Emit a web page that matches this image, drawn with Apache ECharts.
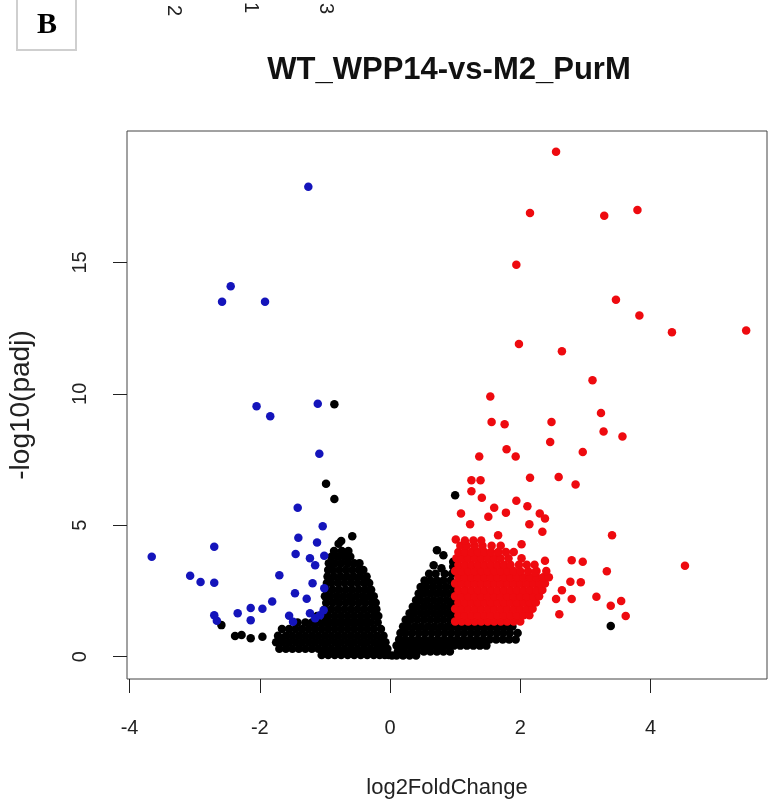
<!DOCTYPE html>
<html>
<head>
<meta charset="utf-8">
<script src="https://cdn.jsdelivr.net/npm/echarts@6/dist/echarts.min.js"></script>
<style>
html,body{margin:0;padding:0;background:#fff;}
#chart{width:769px;height:803px;}
</style>
</head>
<body>
<div id="chart"></div>
<script>
// ---- texts ----
const chartTitle = 'WT_WPP14-vs-M2_PurM';
const xName = 'log2FoldChange';
const yName = '-log10(padj)';
const panelLetter = 'B';
const topCutLabels = ['2', '1', '3'];
const xTicks = [-4, -2, 0, 2, 4];
const yTicks = [0, 5, 10, 15];

// ---- significant down (blue) ----
const downPts = [
  [-1.255,17.88],[-2.447,14.09],[-2.58,13.5],[-1.92,13.5],[-2.05,9.53],[-1.84,9.15],
  [-1.11,9.62],[-1.086,7.72],[-1.418,5.67],[-1.034,4.96],[-1.408,4.52],[-1.121,4.34],
  [-3.66,3.80],[-2.70,4.18],[-1.45,3.91],[-1.23,3.74],[-1.15,3.48],[-1.01,3.84],
  [-3.07,3.08],[-2.91,2.84],[-2.70,2.81],[-1.70,3.10],[-1.19,2.79],[-1.01,2.60],
  [-1.46,2.41],[-1.28,2.20],[-1.81,2.10],[-1.96,1.82],[-2.14,1.85],[-2.34,1.65],
  [-2.14,1.39],[-2.70,1.58],[-2.66,1.37],[-1.55,1.56],[-1.49,1.33],[-1.23,1.65],
  [-1.15,1.46],[-1.075,1.58],[-1.02,1.77]
];

// ---- significant up (red), isolated ----
const upPts = [
  [2.55,19.21],[2.15,16.88],[3.29,16.78],[3.80,16.99],[1.94,14.91],[3.47,13.58],
  [3.83,12.98],[4.33,12.34],[5.47,12.41],[1.98,11.90],[2.64,11.62],[3.11,10.52],
  [1.54,9.90],[3.24,9.27],[1.56,8.93],[1.76,8.84],[2.48,8.93],[3.28,8.57],
  [3.57,8.38],[2.46,8.17],[1.79,7.89],[1.93,7.62],[1.37,7.62],[2.96,7.79],
  [2.15,6.81],[2.59,6.84],[2.85,6.55],[1.25,6.71],[1.39,6.71],[1.25,6.29],
  [1.41,6.05],[1.94,5.93],[2.11,5.72],[2.30,5.45],[2.38,5.26],[1.78,5.48],
  [1.60,5.67],[1.51,5.32],[1.09,5.45],[1.23,5.04],[2.14,5.04],[2.34,4.75],
  [1.66,4.62],[1.01,4.46],[2.02,4.28],[3.41,4.62],[2.38,3.65],[2.79,3.67],
  [2.96,3.61],[3.33,3.25],[4.53,3.46],[2.23,3.21],[2.77,2.85],[2.93,2.83],
  [2.64,2.53],[2.55,2.19],[2.79,2.19],[3.17,2.28],[3.39,1.94],[3.55,2.12],
  [3.62,1.55],[2.60,1.61]
];

// ---- significant up (red), dense cloud: [y, x values] ----
const upRows = [
  [1.34,[1.00,1.10,1.20,1.30,1.40,1.50,1.60,1.70,1.80,1.90,2.00]],
  [1.58,[1.05,1.15,1.25,1.35,1.45,1.55,1.65,1.75,1.85,1.95,2.05,2.14]],
  [1.82,[1.00,1.10,1.20,1.30,1.40,1.50,1.60,1.70,1.80,1.90,2.00,2.10,2.19]],
  [2.06,[1.05,1.15,1.25,1.35,1.45,1.55,1.65,1.75,1.85,1.95,2.05,2.15,2.24]],
  [2.30,[1.00,1.10,1.20,1.30,1.40,1.50,1.60,1.70,1.80,1.90,2.00,2.10,2.20,2.29]],
  [2.54,[1.05,1.15,1.25,1.35,1.45,1.55,1.65,1.75,1.85,1.95,2.05,2.15,2.25,2.34]],
  [2.78,[1.00,1.10,1.20,1.30,1.40,1.50,1.60,1.70,1.80,1.90,2.00,2.10,2.20,2.30,2.38]],
  [3.02,[1.05,1.15,1.25,1.35,1.45,1.55,1.65,1.75,1.85,1.95,2.05,2.15,2.25,2.35,2.44]],
  [3.26,[1.00,1.10,1.20,1.30,1.40,1.50,1.60,1.70,1.80,1.90,2.00,2.12,2.25,2.40]],
  [3.50,[1.05,1.15,1.25,1.35,1.45,1.55,1.65,1.75,1.85,1.98,2.10,2.22]],
  [3.74,[1.02,1.10,1.20,1.30,1.40,1.50,1.60,1.70,1.82,2.02]],
  [3.98,[1.05,1.15,1.25,1.35,1.45,1.55,1.66,1.78,1.90]],
  [4.22,[1.08,1.18,1.30,1.42,1.56,1.70]],
  [4.42,[1.15,1.28,1.40]]
];

// ---- not significant (black), isolated ----
const nsPts = [
  [-0.855,9.6],[-0.983,6.58],[-0.855,6.0],[-0.58,4.58],[-0.79,4.3],[-0.75,4.4],
  [-2.59,1.20],[-2.38,0.79],[-2.28,0.82],[-2.14,0.70],[-1.96,0.76],[-1.69,0.70],
  [0.72,4.05],[0.82,3.86],[0.67,3.48],[0.79,3.36],[0.97,3.61],[0.97,3.42],
  [1.0,6.14],[3.39,1.17]
];

// ---- not significant (black), dense clouds: [y, x values] ----
const nsLeftRows = [
  [0.06,[-1.05,-0.95,-0.85,-0.75,-0.65,-0.55,-0.45,-0.35,-0.25,-0.16,-0.08,-0.02]],
  [0.30,[-1.70,-1.60,-1.50,-1.40,-1.30,-1.20,-1.10,-1.00,-0.90,-0.80,-0.70,-0.60,-0.50,-0.40,-0.30,-0.20,-0.11,-0.04]],
  [0.55,[-1.75,-1.65,-1.55,-1.45,-1.35,-1.25,-1.15,-1.05,-0.95,-0.85,-0.75,-0.65,-0.55,-0.45,-0.35,-0.25,-0.15,-0.07]],
  [0.80,[-1.72,-1.60,-1.50,-1.40,-1.30,-1.20,-1.10,-1.00,-0.90,-0.80,-0.70,-0.60,-0.50,-0.40,-0.30,-0.20,-0.10]],
  [1.05,[-1.66,-1.55,-1.45,-1.35,-1.25,-1.15,-1.05,-0.95,-0.85,-0.75,-0.65,-0.55,-0.45,-0.35,-0.25,-0.14]],
  [1.30,[-1.42,-1.30,-1.20,-1.10,-1.00,-0.90,-0.80,-0.70,-0.60,-0.50,-0.40,-0.30,-0.19]],
  [1.55,[-1.12,-1.02,-0.95,-0.85,-0.75,-0.65,-0.55,-0.45,-0.35,-0.25,-0.18]],
  [1.80,[-1.00,-0.90,-0.80,-0.70,-0.60,-0.50,-0.40,-0.30,-0.21]],
  [2.05,[-0.98,-0.88,-0.78,-0.68,-0.58,-0.48,-0.38,-0.28,-0.22]],
  [2.30,[-1.00,-0.92,-0.82,-0.72,-0.62,-0.52,-0.42,-0.32,-0.25]],
  [2.55,[-0.98,-0.88,-0.78,-0.68,-0.58,-0.48,-0.38,-0.29]],
  [2.80,[-0.97,-0.90,-0.80,-0.70,-0.60,-0.50,-0.40,-0.32]],
  [3.05,[-0.96,-0.86,-0.76,-0.66,-0.56,-0.46,-0.36]],
  [3.30,[-0.95,-0.88,-0.78,-0.68,-0.58,-0.48,-0.41]],
  [3.55,[-0.94,-0.85,-0.75,-0.65,-0.55,-0.47]],
  [3.80,[-0.90,-0.80,-0.70,-0.61]],
  [4.02,[-0.86,-0.74,-0.64]]
];
const nsRightRows = [
  [0.04,[0.03,0.10,0.20,0.30,0.40]],
  [0.20,[0.12,0.22,0.32,0.42,0.52,0.62,0.72,0.82,0.92]],
  [0.42,[0.10,0.18,0.28,0.38,0.48,0.58,0.68,0.78,0.88,0.98,1.08,1.18,1.28,1.38,1.48]],
  [0.65,[0.14,0.23,0.33,0.43,0.53,0.63,0.73,0.83,0.93,1.03,1.13,1.23,1.33,1.43,1.53,1.63,1.73,1.83,1.93]],
  [0.90,[0.16,0.24,0.34,0.44,0.54,0.64,0.74,0.84,0.94,1.04,1.14,1.24,1.34,1.44,1.54,1.64,1.74,1.84,1.96]],
  [1.15,[0.20,0.28,0.38,0.48,0.58,0.68,0.78,0.88,0.98,1.08,1.18,1.28,1.38,1.48,1.58,1.68,1.78,1.88]],
  [1.40,[0.24,0.32,0.42,0.52,0.62,0.72,0.82,0.92,1.02]],
  [1.65,[0.30,0.37,0.47,0.57,0.67,0.77,0.87,0.97]],
  [1.90,[0.35,0.42,0.52,0.62,0.72,0.82,0.92,1.00]],
  [2.15,[0.40,0.47,0.57,0.67,0.77,0.87,0.97]],
  [2.40,[0.44,0.52,0.62,0.72,0.82,0.92,0.99]],
  [2.65,[0.47,0.56,0.66,0.76,0.86,0.96]],
  [2.90,[0.53,0.62,0.72,0.82,0.93]],
  [3.15,[0.60,0.70,0.84,0.95]]
];

function rowsToPts(rows) {
  const out = [];
  rows.forEach(function (r) { r[1].forEach(function (x) { out.push([x, r[0]]); }); });
  return out;
}

const nsData = rowsToPts(nsLeftRows).concat(rowsToPts(nsRightRows)).concat(nsPts);
const downData = downPts;
const upData = rowsToPts(upRows).concat(upPts);

const FONT = 'Liberation Sans';
const chart = echarts.init(document.getElementById('chart'), null, { renderer: 'canvas' });

const option = {
  animation: false,
  backgroundColor: '#ffffff',
  grid: {
    left: 127, top: 131, width: 640, height: 548,
    show: true, borderColor: '#444', borderWidth: 1, backgroundColor: 'transparent',
    containLabel: false, outerBoundsMode: 'none'
  },
  xAxis: {
    type: 'value', min: -4.04, max: 5.79,
    name: xName, nameLocation: 'middle', nameGap: 98,
    nameTextStyle: { fontFamily: FONT, fontSize: 22, color: '#222' },
    axisLine: { show: false, onZero: false },
    splitLine: { show: false },
    axisTick: { show: true, inside: false, length: 14, customValues: xTicks, lineStyle: { color: '#222', width: 1 } },
    axisLabel: { customValues: xTicks, fontFamily: FONT, fontSize: 20, color: '#222', margin: 39 }
  },
  yAxis: {
    type: 'value', min: -0.85, max: 20.0,
    name: yName, nameLocation: 'middle', nameGap: 92, nameRotate: 90,
    nameTextStyle: { fontFamily: FONT, fontSize: 28, color: '#222' },
    axisLine: { show: false, onZero: false },
    splitLine: { show: false },
    axisTick: { show: true, inside: false, length: 14, customValues: yTicks, lineStyle: { color: '#222', width: 1 } },
    axisLabel: { customValues: yTicks, rotate: 90, fontFamily: FONT, fontSize: 20, color: '#222', margin: 37 }
  },
  series: [
    { name: 'ns', type: 'scatter', data: nsData, symbol: 'circle', symbolSize: 8.5,
      itemStyle: { color: '#000000', opacity: 1 }, silent: true },
    { name: 'down', type: 'scatter', data: downData, symbol: 'circle', symbolSize: 8.5,
      itemStyle: { color: '#1414bb', opacity: 1 }, silent: true },
    { name: 'up', type: 'scatter', data: upData, symbol: 'circle', symbolSize: 8.5,
      itemStyle: { color: '#ee0a0f', opacity: 1 }, silent: true }
  ],
  graphic: [
    { type: 'rect', shape: { x: 17, y: -3, width: 59, height: 53 },
      style: { fill: '#ffffff', stroke: '#cfcfcf', lineWidth: 2 } },
    { type: 'text', x: 47, y: 25,
      style: { text: panelLetter, font: 'bold 30px "Liberation Serif"', fill: '#000', textAlign: 'center', textVerticalAlign: 'middle' } },
    { type: 'text', x: 449, y: 70,
      style: { text: chartTitle, font: 'bold 31px "Liberation Sans"', fill: '#111', textAlign: 'center', textVerticalAlign: 'middle' } },
    { type: 'text', x: 174, y: 16, rotation: -Math.PI / 2,
      style: { text: topCutLabels[0], font: '20px "Liberation Sans"', fill: '#222', textAlign: 'right', textVerticalAlign: 'middle' } },
    { type: 'text', x: 251, y: 13, rotation: -Math.PI / 2,
      style: { text: topCutLabels[1], font: '20px "Liberation Sans"', fill: '#222', textAlign: 'right', textVerticalAlign: 'middle' } },
    { type: 'text', x: 326, y: 14, rotation: -Math.PI / 2,
      style: { text: topCutLabels[2], font: '20px "Liberation Sans"', fill: '#222', textAlign: 'right', textVerticalAlign: 'middle' } }
  ]
};
chart.setOption(option);
</script>
</body>
</html>
